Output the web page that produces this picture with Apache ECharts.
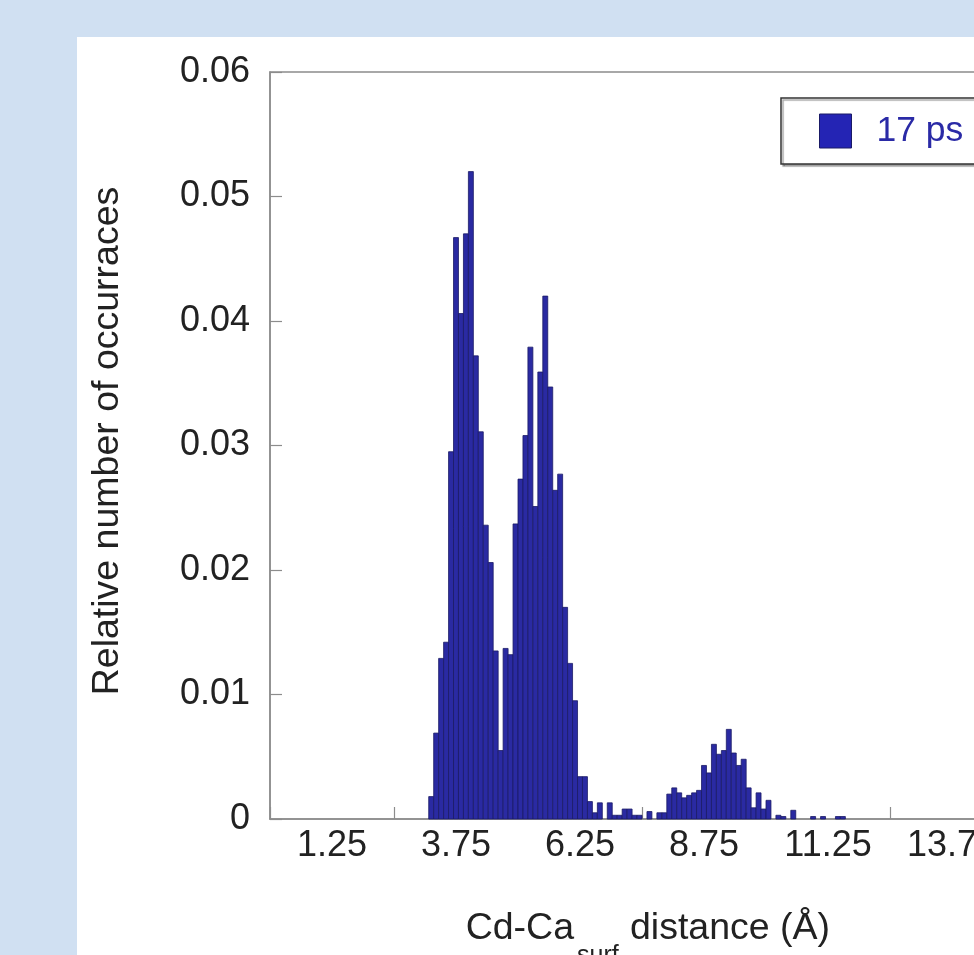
<!DOCTYPE html>
<html>
<head>
<meta charset="utf-8">
<script src="https://cdn.jsdelivr.net/npm/echarts@6/dist/echarts.min.js"></script>
<style>
  html, body { margin: 0; padding: 0; overflow: hidden; background: #ffffff; }
  #chart { width: 1060px; height: 955px; }
</style>
</head>
<body>
<div id="chart"></div>
<script>
// Histogram of Cd–Ca(surf) distances, 0.1 Å bins starting at 3.2 Å
const binStart = 3.2;
const binWidth = 0.1;
const occurrences = [
  0.0018, 0.0069, 0.0129, 0.0142, 0.0295, 0.0467, 0.0406, 0.0470, 0.0520, 0.0372,
  0.0311, 0.0236, 0.0206, 0.0135, 0.0055, 0.0137, 0.0132, 0.0237, 0.0273, 0.0308,
  0.0379, 0.0251, 0.0359, 0.0420, 0.0347, 0.0264, 0.0277, 0.0170, 0.0125, 0.0095,
  0.0034, 0.0034, 0.0014, 0.0005, 0.0013, 0.0000, 0.0013, 0.0003, 0.0003, 0.0008,
  0.0008, 0.0003, 0.0003, 0.0000, 0.0006, 0.0000, 0.0005, 0.0005, 0.0020, 0.0025,
  0.0021, 0.0017, 0.0019, 0.0021, 0.0023, 0.0043, 0.0037, 0.0060, 0.0052, 0.0055,
  0.0072, 0.0053, 0.0043, 0.0048, 0.0025, 0.0009, 0.0021, 0.0008, 0.0015, 0.0000,
  0.0003, 0.0002, 0.0000, 0.0007, 0.0000, 0.0000, 0.0000, 0.0002, 0.0000, 0.0002,
  0.0000, 0.0000, 0.0002, 0.0002
];
const xTickLabels = ['1.25', '3.75', '6.25', '8.75', '11.25', '13.75'];
const yTickLabels = ['0', '0.01', '0.02', '0.03', '0.04', '0.05', '0.06'];
const seriesName = '17 ps';

const FONT = '"Liberation Sans", Arial, Helvetica, sans-serif';
const BAR_FILL = '#2a2aa2';
const BAR_EDGE = '#1a1a66';
const FRAME = '#8c8c8c';

// rows: [left edge, right edge, height]
const rows = occurrences.map((v, i) => {
  const left = +(binStart + i * binWidth).toFixed(2);
  return [left, +(left + binWidth).toFixed(2), v];
});

const chart = echarts.init(document.getElementById('chart'), null, { renderer: 'canvas' });

chart.setOption({
  animation: false,
  backgroundColor: '#ffffff',
  textStyle: { fontFamily: FONT },
  graphic: [
    { type: 'rect', z: -10, silent: true, shape: { x: 0, y: 0, width: 1060, height: 955 }, style: { fill: '#d0e0f2' } },
    { type: 'rect', z: -9, silent: true, shape: { x: 77, y: 37, width: 990, height: 930 }, style: { fill: '#ffffff' } },
    {
      type: 'text', silent: true, x: 108, y: 441, rotation: Math.PI / 2,
      style: { text: 'Relative number of occurraces', fontSize: 37.5, fontFamily: FONT, fill: '#222', align: 'center', verticalAlign: 'middle' }
    },
    {
      type: 'text', silent: true, x: 574, y: 929,
      style: { text: 'Cd-Ca', fontSize: 37.5, fontFamily: FONT, fill: '#222', align: 'right', verticalAlign: 'middle' }
    },
    {
      type: 'text', silent: true, x: 577, y: 956,
      style: { text: 'surf', fontSize: 25, fontFamily: FONT, fill: '#222', align: 'left', verticalAlign: 'middle' }
    },
    {
      type: 'text', silent: true, x: 630, y: 929,
      style: { text: 'distance (Å)', fontSize: 37.5, fontFamily: FONT, fill: '#222', align: 'left', verticalAlign: 'middle' }
    }
  ],
  legend: {
    data: [{ name: seriesName, icon: 'rect' }],
    left: 781, top: 98,
    orient: 'horizontal',
    padding: [15, 40, 15, 38],
    itemWidth: 32, itemHeight: 34,
    backgroundColor: '#ffffff',
    borderColor: '#333333', borderWidth: 1.5,
    shadowColor: 'rgba(0,0,0,0.35)', shadowOffsetX: 2, shadowOffsetY: 2, shadowBlur: 1,
    itemStyle: { color: '#2424b4', borderColor: '#1a1a66', borderWidth: 1 },
    textStyle: { fontSize: 35.5, color: '#2a2aa6', fontFamily: FONT, padding: [0, 0, 0, 20] },
    selectedMode: false
  },
  grid: {
    left: 270, top: 72, width: 744, height: 747,
    show: true, borderColor: FRAME, borderWidth: 1.5, backgroundColor: 'transparent'
  },
  xAxis: [
    {
      type: 'value', min: 0, max: 15, interval: 2.5, position: 'bottom',
      axisLine: { show: true, lineStyle: { color: FRAME, width: 1.5 } },
      axisTick: { show: true, inside: true, length: 12, lineStyle: { color: FRAME, width: 1.2 } },
      axisLabel: { show: false },
      splitLine: { show: false }
    },
    {
      type: 'value', min: 0, max: 15, interval: 1.25, position: 'bottom',
      axisLine: { show: false }, axisTick: { show: false }, splitLine: { show: false },
      axisLabel: {
        show: true, fontSize: 36, color: '#222', fontFamily: FONT, margin: 9,
        formatter: (v) => {
          const k = Math.round(v / 1.25);
          return k % 2 === 1 ? xTickLabels[(k - 1) / 2] : '';
        }
      }
    }
  ],
  yAxis: {
    type: 'value', min: 0, max: 0.06, interval: 0.01,
    axisLine: { show: true, lineStyle: { color: FRAME, width: 1.5 } },
    axisTick: { show: true, inside: true, length: 12, lineStyle: { color: FRAME, width: 1.2 } },
    axisLabel: {
      fontSize: 36, color: '#222', fontFamily: FONT, margin: 20,
      formatter: (v) => yTickLabels[Math.round(v / 0.01)]
    },
    splitLine: { show: false }
  },
  series: [{
    name: seriesName,
    type: 'custom',
    xAxisIndex: 0,
    yAxisIndex: 0,
    data: rows,
    encode: { x: [0, 1], y: 2 },
    itemStyle: { color: BAR_FILL, borderColor: BAR_EDGE, borderWidth: 0.8 },
    renderItem: (params, api) => {
      const h = api.value(2);
      if (!h) return null;
      const p0 = api.coord([api.value(0), h]);
      const p1 = api.coord([api.value(1), 0]);
      return {
        type: 'rect',
        shape: { x: p0[0], y: p0[1], width: p1[0] - p0[0], height: p1[1] - p0[1] },
        style: { fill: BAR_FILL, stroke: BAR_EDGE, lineWidth: 0.8 }
      };
    }
  }]
});
</script>
</body>
</html>
